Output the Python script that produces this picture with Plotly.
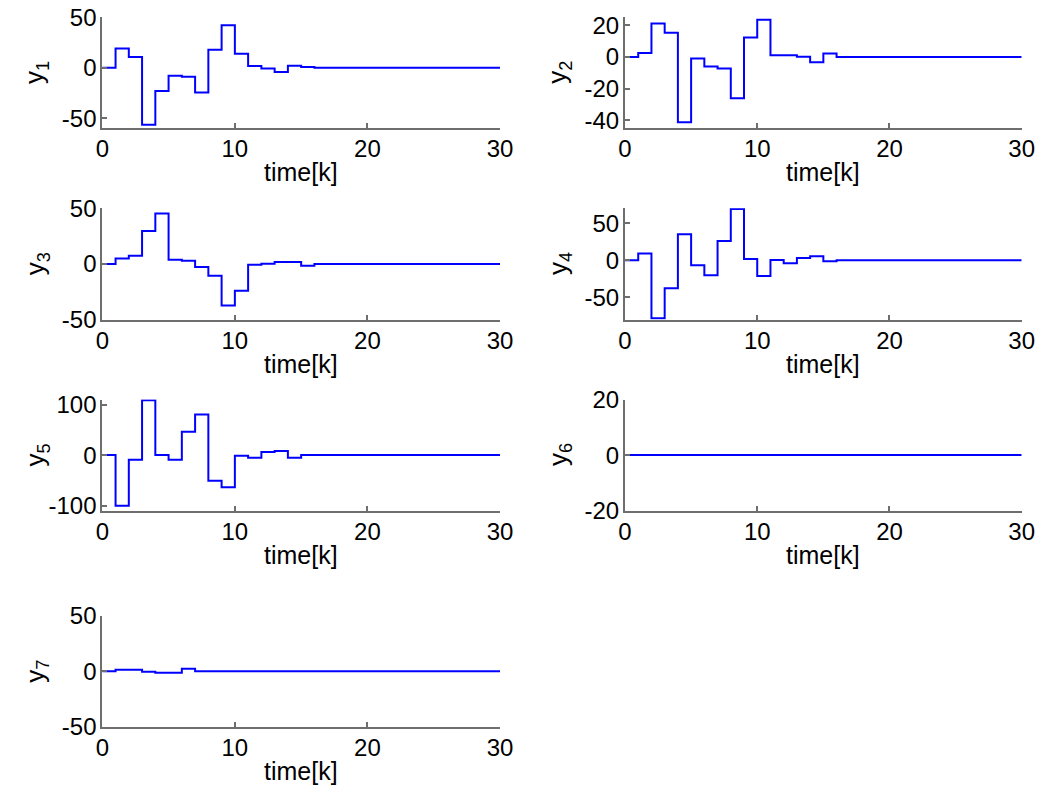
import plotly.graph_objects as go

k = list(range(31))
pad = [0.0] * 15

y1 = [0, 19, 10.6, -56.4, -23, -7.9, -8.9, -24.4, 17.8, 42, 13.9, 1.7, -0.7, -4.3, 2, 0.7] + pad
y2 = [0, 2.5, 21.1, 15.3, -41.2, -1, -6.1, -7.3, -26.1, 12.3, 23.4, 1, 1, 0.2, -3.3, 2.1] + pad
y3 = [0, 5, 7.5, 29.7, 45.3, 3.9, 3, -2.7, -10.5, -37.2, -24, -0.6, 0.3, 1.8, 1.8, -1.5] + pad
y4 = [0, 9, -77.9, -37.8, 35.1, -6.8, -20.3, 26.1, 68.9, 1.8, -21.2, 0.5, -4, 3.2, 5.4, -1.4] + pad
y5 = [0, -100, -9.2, 108.6, 0, -9.2, 46, 80.3, -50.7, -63.8, -1.3, -5.3, 5.9, 7.9, -5.3, 0] + pad
y6 = [0.0] * 31
y7 = [0, 1.5, 1.5, -0.3, -1.2, -1.2, 2.4, 0, 0, 0, 0, 0, 0, 0, 0, 0] + pad

series = [y1, y2, y3, y4, y5, y6, y7]
names = ["y<sub>1</sub>", "y<sub>2</sub>", "y<sub>3</sub>", "y<sub>4</sub>",
         "y<sub>5</sub>", "y<sub>6</sub>", "y<sub>7</sub>"]
y_ranges = [[-60, 50], [-45, 25], [-50, 50], [-80, 70], [-110, 110], [-20, 20], [-50, 50]]
y_ticks = [[-50, 0, 50], [-40, -20, 0, 20], [-50, 0, 50], [-50, 0, 50],
           [-100, 0, 100], [-20, 0, 20], [-50, 0, 50]]
x_ticks = [0, 10, 20, 30]

W, H = 1039, 789
cols = [(102.3, 500.0), (625.0, 1021.7)]
rows = [(17.3, 128.3), (208.3, 319.7), (399.5, 510.7), (616.0, 726.7)]

FONT = "Liberation Sans, Arial, sans-serif"
AX = "#6e6e6e"

fig = go.Figure()
layout = dict(width=W, height=H, margin=dict(l=0, r=0, t=0, b=0, autoexpand=False),
              paper_bgcolor="white", plot_bgcolor="white", showlegend=False,
              font=dict(family=FONT, size=22, color="black"))
annotations = []
for i, ys in enumerate(series):
    r, c = divmod(i, 2)
    x0, x1 = cols[c]
    t, b = rows[r]
    n = "" if i == 0 else str(i + 1)
    fig.add_trace(go.Scatter(x=k, y=ys, mode="lines", line=dict(color="#0000FF", width=2, shape="hv"),
                             xaxis="x" + n, yaxis="y" + n))
    layout["xaxis" + n] = dict(domain=[x0 / W, x1 / W], anchor="y" + n, range=[0, 30],
                               tickvals=x_ticks, ticktext=[str(v) for v in x_ticks],
                               ticks="inside", ticklen=5, tickcolor=AX, tickwidth=1.5,
                               showline=True, linecolor=AX, linewidth=2, showgrid=False, zeroline=False,
                               tickfont=dict(size=24), ticklabelstandoff=-2, automargin=False,
                               ticklabeloverflow="allow")
    layout["yaxis" + n] = dict(domain=[1 - b / H, 1 - t / H], anchor="x" + n, range=y_ranges[i],
                               tickvals=y_ticks[i], ticktext=[str(v) for v in y_ticks[i]],
                               ticks="inside", ticklen=5, tickcolor=AX, tickwidth=1.5,
                               showline=True, linecolor=AX, linewidth=2, showgrid=False, zeroline=False,
                               tickfont=dict(size=24), ticklabelstandoff=-1, automargin=False,
                               ticklabeloverflow="allow")
    annotations.append(dict(text="time[k]", xref="paper", yref="paper", x=(x0 + x1) / 2 / W,
                            y=1 - (b + 44) / H, xanchor="center", yanchor="middle", showarrow=False,
                            font=dict(size=25)))
    annotations.append(dict(text=names[i], xref="paper", yref="paper", x=(x0 - 66) / W,
                            y=1 - (t + b) / 2 / H, xanchor="center", yanchor="middle", showarrow=False,
                            textangle=-90, font=dict(size=26)))
layout["annotations"] = annotations
fig.update_layout(**layout)
fig.write_html("out.html", config={"displayModeBar": False},
               post_script="document.documentElement.style.margin='0';document.body.style.margin='0';"
                           "document.body.style.overflow='hidden';")
